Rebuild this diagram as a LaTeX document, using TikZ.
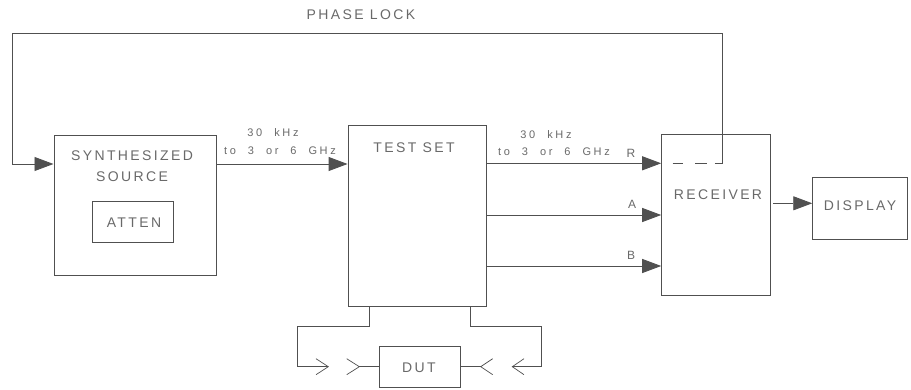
\documentclass[tikz,border=0pt]{standalone}
\usepackage{fontspec}
\usetikzlibrary{arrows.meta,calc}
\newfontfamily\bigf[LetterSpace=17]{Liberation Sans}
\newfontfamily\smallf[LetterSpace=24,WordSpace=2.1]{Liberation Sans}
\definecolor{linec}{RGB}{80,80,80}
\definecolor{textc}{RGB}{105,105,105}
\tikzset{
  box/.style={draw=linec, line width=0.9pt, inner sep=0pt},
  conn/.style={draw=linec, line width=0.9pt},
  arr/.style={conn, -{Triangle[length=19pt,width=14pt]}},
  bigtxt/.style={text=textc, inner sep=0pt, font=\bigf\fontsize{14}{16}\selectfont},
  midtxt/.style={text=textc, inner sep=0pt, font=\bigf\fontsize{12}{14}\selectfont},
  smalltxt/.style={text=textc, inner sep=0pt, font=\smallf\fontsize{11}{13}\selectfont},
  barb/.style={conn, line width=0.7pt, line join=miter}
}
\begin{document}
\begin{tikzpicture}[x=1pt,y=-1pt]
\useasboundingbox (0,0) rectangle (911,390);
% boxes
\node[box, minimum width=162.7pt, minimum height=140pt] (src) at (135.3,205) {};
\node[box, minimum width=81pt, minimum height=40.6pt] (atten) at (132.5,222) {};
\node[box, minimum width=138pt, minimum height=181.3pt] (ts) at (417,215.7) {};
\node[box, minimum width=108.3pt, minimum height=161pt] (rcv) at (715.8,214.5) {};
\node[box, minimum width=94.6pt, minimum height=61.6pt] (disp) at (860,208.5) {};
\node[box, minimum width=81pt, minimum height=40.6pt] (dut) at (419.5,367) {};
% box texts
\node[bigtxt] (tsyn) at (132,156) {SYNTHESIZED};
\node[bigtxt] (tsrc) at (132,177) {SOURCE};
\node[bigtxt] (tatt) at (134,223) {ATTEN};
\node[bigtxt] (tts) at (414,148) {TEST SET};
\node[bigtxt] (trcv) at (718,195) {RECEIVER};
\node[bigtxt] (tdisp) at (860,205.5) {DISPLAY};
\node[bigtxt] (tdut) at (419,368) {DUT};
\node[bigtxt] (tpl) at (361,15) {PHASE LOCK};
% signal labels
\node[smalltxt] (l1a) at (273,133) {30 kHz};
\node[smalltxt] (l1b) at (280,151) {to 3 or 6 GHz};
\node[smalltxt] (l2a) at (546,135) {30 kHz};
\node[smalltxt] (l2b) at (554,152) {to 3 or 6 GHz};
\node[midtxt] (lr) at (631,153) {R};
\node[midtxt] (la) at (632,204) {A};
\node[midtxt] (lb) at (631,255) {B};
% phase lock loop
\coordinate (pl0) at (672.7,163.3);
\coordinate (pl1) at (722.7,163.3);
\coordinate (pl2) at (722.7,33);
\coordinate (pl3) at (12.7,33);
\coordinate (pl4) at (12.7,164);
\draw[conn, dash pattern=on 10.7pt off 11.7pt on 11.7pt off 8pt on 9pt] (pl0) -- (pl1);
\draw[arr] (pl1) -- (pl2) -- (pl3) -- (pl4) -- (src.west |- pl4);
% source to test set
\coordinate (s1) at (216.7,164);
\draw[arr] (src.east |- s1) -- (ts.west |- s1);
% test set to receiver
\coordinate (yr) at (0,163.3);
\coordinate (ya) at (0,215);
\coordinate (yb) at (0,266);
\draw[arr] (ts.east |- yr) -- (rcv.west |- yr);
\draw[arr] (ts.east |- ya) -- (rcv.west |- ya);
\draw[arr] (ts.east |- yb) -- (rcv.west |- yb);
% receiver to display
\coordinate (yd) at (0,203.3);
\draw[arr, shorten <=3pt] (rcv.east |- yd) -- (disp.west |- yd);
% test set ports to DUT
\coordinate (p1) at (369,326.7);
\coordinate (p2) at (297.7,366.7);
\coordinate (p3) at (328.3,366.7);
\coordinate (p4) at (359.3,366.7);
\draw[conn] (ts.south -| p1) -- (p1) -| (p2) -- (p3);
\draw[barb] ($(p3)+(-12.3,-8)$) -- (p3) -- ($(p3)+(-12.3,8)$);
\draw[barb] ($(p4)+(-12.6,-8)$) -- (p4) -- ($(p4)+(-12.6,8)$);
\draw[conn] (p4) -- (dut.west |- p4);
\coordinate (q1) at (470.7,326.7);
\coordinate (q2) at (541.7,366.7);
\coordinate (q3) at (512.3,366.7);
\coordinate (q4) at (480.7,366.7);
\draw[conn] (ts.south -| q1) -- (q1) -| (q2) -- (q3);
\draw[barb] ($(q3)+(11.7,-8)$) -- (q3) -- ($(q3)+(11.7,8)$);
\draw[barb] ($(q4)+(12,-8)$) -- (q4) -- ($(q4)+(12,8)$);
\draw[conn] (q4) -- (dut.east |- q4);
\end{tikzpicture}
\end{document}
